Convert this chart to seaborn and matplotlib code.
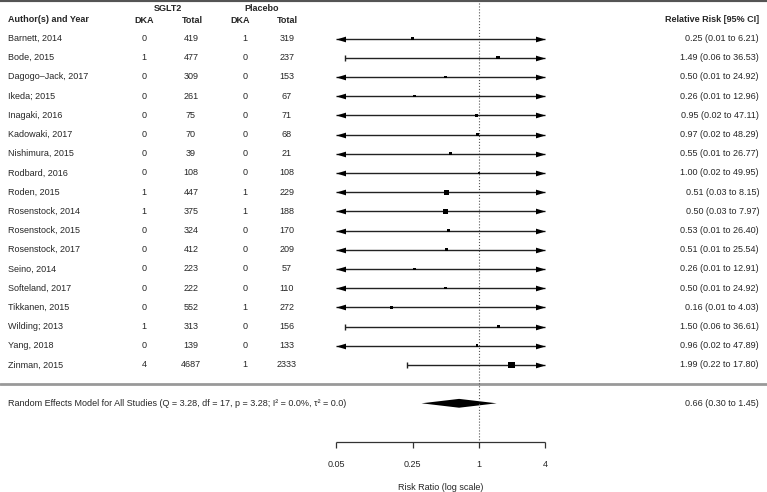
import numpy as np
import pandas as pd
import matplotlib
matplotlib.use("Agg")
import matplotlib.pyplot as plt
import matplotlib.transforms as mtransforms
import seaborn as sns

# ---- data ----
studies = [
    "Barnett, 2014", "Bode, 2015", "Dagogo\u2013Jack, 2017", "Ikeda; 2015",
    "Inagaki, 2016", "Kadowaki, 2017", "Nishimura, 2015", "Rodbard, 2016",
    "Roden, 2015", "Rosenstock, 2014", "Rosenstock, 2015", "Rosenstock, 2017",
    "Seino, 2014", "Softeland, 2017", "Tikkanen, 2015", "Wilding; 2013",
    "Yang, 2018", "Zinman, 2015",
]
sglt2_dka = [0, 1, 0, 0, 0, 0, 0, 0, 1, 1, 0, 0, 0, 0, 0, 1, 0, 4]
sglt2_total = [419, 477, 309, 261, 75, 70, 39, 108, 447, 375, 324, 412, 223, 222, 552, 313, 139, 4687]
placebo_dka = [1, 0, 0, 0, 0, 0, 0, 0, 1, 1, 0, 0, 0, 0, 1, 0, 0, 1]
placebo_total = [319, 237, 153, 67, 71, 68, 21, 108, 229, 188, 170, 209, 57, 110, 272, 156, 133, 2333]
rr = [0.25, 1.49, 0.50, 0.26, 0.95, 0.97, 0.55, 1.00, 0.51, 0.50, 0.53, 0.51, 0.26, 0.50, 0.16, 1.50, 0.96, 1.99]
ci_low = [0.01, 0.06, 0.01, 0.01, 0.02, 0.02, 0.01, 0.02, 0.03, 0.03, 0.01, 0.01, 0.01, 0.01, 0.01, 0.06, 0.02, 0.22]
ci_high = [6.21, 36.53, 24.92, 12.96, 47.11, 48.29, 26.77, 49.95, 8.15, 7.97, 26.40, 25.54, 12.91, 24.92, 4.03, 36.61, 47.89, 17.80]
weights = [5.5, 5.5, 3.6, 3.6, 3.6, 3.6, 3.6, 3.6, 10.9, 10.9, 3.6, 3.6, 3.6, 3.6, 5.5, 5.5, 3.6, 16.4]

summary_rr = 0.66
summary_low = 0.30
summary_high = 1.45
summary_label = ("Random Effects Model for All Studies (Q = 3.28, df = 17, p = 3.28; "
                 "I\u00b2 = 0.0%, \u03c4\u00b2 = 0.0)")

x_ticks = [0.05, 0.25, 1, 4]
x_tick_labels = ["0.05", "0.25", "1", "4"]

df = pd.DataFrame({
    "study": studies, "rr": rr, "lo": ci_low, "hi": ci_high, "w": weights,
})
df["row"] = np.arange(len(df))

# ---- figure layout (one axes covering the whole canvas) ----
W, H = 767, 492
sns.set_theme(style="white")
plt.rcParams["font.family"] = ["Liberation Sans", "DejaVu Sans"]
FS = 6.5

fig = plt.figure(figsize=(W / 100, H / 100), dpi=100)
ax = fig.add_axes([0, 0, 1, 1])
ax.set_xscale("log")
px_per_dec = 109.8
x_one = 478.9
ax.set_xlim(10 ** (-x_one / px_per_dec), 10 ** ((W - x_one) / px_per_dec))
row_h = 19.2
row0 = 38.5
ax.set_ylim((H - row0) / row_h, -row0 / row_h)
ax.axis("off")

xmin, xmax = x_ticks[0], x_ticks[-1]
n = len(df)
summary_row = n + 1
axis_row = n + 3

fx = mtransforms.blended_transform_factory(fig.transFigure, ax.transData)


def col(px):
    return px / W


# header
ax.text(col(8), -1.0, "Author(s) and Year", transform=fx, fontsize=FS, fontweight="bold", va="center")
ax.text(col(168), -1.56, "SGLT2", transform=fx, fontsize=FS, fontweight="bold", va="center", ha="center")
ax.text(col(262), -1.56, "Placebo", transform=fx, fontsize=FS, fontweight="bold", va="center", ha="center")
for px, lab in [(144, "DKA"), (192, "Total"), (240, "DKA"), (287, "Total")]:
    ax.text(col(px), -0.96, lab, transform=fx, fontsize=FS, fontweight="bold", va="center", ha="center")
ax.text(col(759), -1.0, "Relative Risk [95% CI]", transform=fx, fontsize=FS,
        fontweight="bold", va="center", ha="right")

# table columns
for i, r in df.iterrows():
    y = r["row"]
    ax.text(col(8), y, r["study"], transform=fx, fontsize=FS, va="center")
    for px, val in [(144, sglt2_dka[i]), (191, sglt2_total[i]),
                    (245, placebo_dka[i]), (287, placebo_total[i])]:
        ax.text(col(px), y, str(val), transform=fx, fontsize=FS, va="center", ha="center")
    ax.text(col(759), y, f"{r['rr']:.2f} ({r['lo']:.2f} to {r['hi']:.2f})",
            transform=fx, fontsize=FS, va="center", ha="right")

# separators and reference line
ax.axhline(-row0 / row_h, color="#555555", lw=3)
ax.axhline(n, color="#999999", lw=2)
ax.vlines(1, -row0 / row_h, axis_row, colors="#555555", linestyles=":", lw=0.8)

# confidence intervals
left_arrow = [(0, 0), (1, 0.3), (1, -0.3), (0, 0)]
right_arrow = [(0, 0), (-1, 0.3), (-1, -0.3), (0, 0)]
arrow_ms = 2 * 9.5 * 0.72
lo_c = df["lo"].clip(lower=xmin)
hi_c = df["hi"].clip(upper=xmax)
ax.hlines(df["row"], lo_c, hi_c, colors="#222222", lw=1.0)
for _, r in df.iterrows():
    y = r["row"]
    if r["lo"] < xmin:
        ax.plot(xmin, y, marker=left_arrow, ms=arrow_ms, color="black", mew=0)
    else:
        ax.plot(r["lo"], y, marker="|", ms=4.5, color="#222222", mew=1.0)
    if r["hi"] > xmax:
        ax.plot(xmax, y, marker=right_arrow, ms=arrow_ms, color="black", mew=0)
    else:
        ax.plot(r["hi"], y, marker="|", ms=4.5, color="#222222", mew=1.0)

# point estimates, square side grows with study weight
wn = (df["w"] - df["w"].min()) / (df["w"].max() - df["w"].min())
side_pt = (2.7 + 4.0 * wn) * 0.72
sns.scatterplot(data=df, x="rr", y="row", marker="s", s=(side_pt ** 2).to_numpy(),
                color="black", linewidth=0, legend=False, ax=ax, zorder=3)

# summary diamond
dh = 0.23
ax.fill([summary_low, summary_rr, summary_high, summary_rr],
        [summary_row, summary_row - dh, summary_row, summary_row + dh],
        color="black", lw=0)
ax.text(col(8), summary_row, summary_label, transform=fx, fontsize=FS, va="center")
ax.text(col(759), summary_row, f"{summary_rr:.2f} ({summary_low:.2f} to {summary_high:.2f})",
        transform=fx, fontsize=FS, va="center", ha="right")

# x axis drawn by hand below the summary
ax.hlines(axis_row, xmin, xmax, colors="#333333", lw=0.9)
ax.vlines(x_ticks, axis_row, axis_row + 0.32, colors="#333333", lw=0.9)
for t, lab in zip(x_ticks, x_tick_labels):
    ax.text(t, axis_row + 1.2, lab, fontsize=FS, ha="center", va="center")
ax.text(np.sqrt(xmin * xmax), axis_row + 2.4, "Risk Ratio (log scale)", fontsize=FS,
        ha="center", va="center")

plt.savefig("out.png", dpi=100)
